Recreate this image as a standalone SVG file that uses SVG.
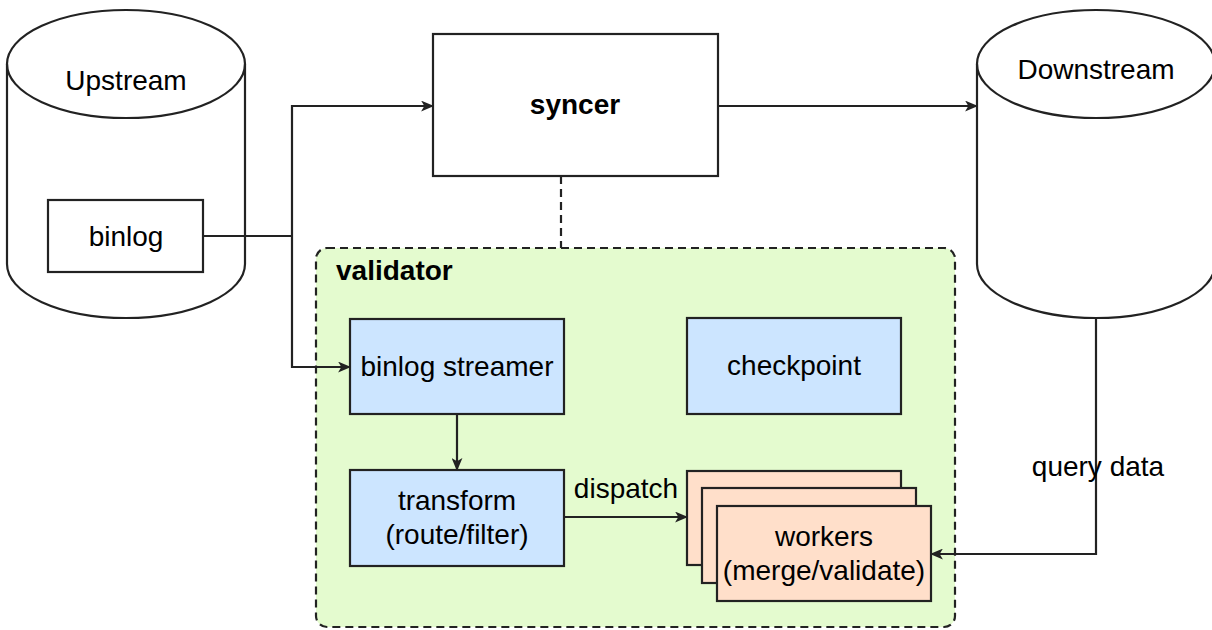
<svg xmlns="http://www.w3.org/2000/svg" width="1212" height="630" viewBox="0 0 1212 630">
<style>
  text { font-family: "Liberation Sans", Arial, Helvetica, sans-serif; font-size: 28px; fill: #000; text-anchor: middle; }
  .bold { font-weight: bold; }
  .shape { stroke: #222; stroke-width: 2.2; }
  .white { fill: #ffffff; }
  .blue { fill: #cce5ff; }
  .peach { fill: #ffdfca; }
  .edge { fill: none; stroke: #222; stroke-width: 2.2; }
  .dash { fill: none; stroke: #222; stroke-width: 2.2; stroke-dasharray: 8 5; }
  .group { fill: #e4fbcf; stroke: #222; stroke-width: 2.2; stroke-dasharray: 8 5; }
</style>
<defs>
  <marker id="arrow" viewBox="0 0 12 10" refX="11" refY="5" markerWidth="13" markerHeight="11" markerUnits="userSpaceOnUse" orient="auto">
    <path d="M0,0 L12,5 L0,10 L3,5 Z" fill="#222"/>
  </marker>
</defs>
<rect width="1212" height="630" fill="#ffffff"/>

<g id="validator">
  <rect x="316" y="248" width="639" height="379" rx="11" ry="11" class="group"/>
  <text x="336" y="280" class="bold" style="text-anchor:start">validator</text>
</g>

<g id="upstream">
  <path class="shape white" d="M7,64 A119,54 0 0 1 245,64 L245,264 A119,54 0 0 1 7,264 Z"/>
  <path class="shape" fill="none" d="M7,64 A119,54 0 0 0 245,64"/>
  <text x="126" y="90">Upstream</text>
</g>

<g id="binlog">
  <rect x="48" y="200" width="155" height="72" class="shape white"/>
  <text x="126" y="246">binlog</text>
</g>

<g id="syncer">
  <rect x="433" y="34" width="285" height="142" class="shape white"/>
  <text x="575" y="114" class="bold">syncer</text>
</g>

<g id="downstream">
  <path class="shape white" d="M977,64 A119,54 0 0 1 1215,64 L1215,264 A119,54 0 0 1 977,264 Z"/>
  <path class="shape" fill="none" d="M977,64 A119,54 0 0 0 1215,64"/>
  <text x="1096" y="79">Downstream</text>
</g>

<g id="binlog-streamer">
  <rect x="350" y="319" width="214" height="95" class="shape blue"/>
  <text x="457" y="376">binlog streamer</text>
</g>

<g id="checkpoint">
  <rect x="687" y="318" width="214" height="96" class="shape blue"/>
  <text x="794" y="375">checkpoint</text>
</g>

<g id="transform">
  <rect x="350" y="470" width="214" height="96" class="shape blue"/>
  <text x="457" y="510">transform</text>
  <text x="457" y="544">(route/filter)</text>
</g>

<g id="workers">
  <rect x="687" y="471" width="214" height="94" class="shape peach"/>
  <rect x="702" y="488" width="214" height="95" class="shape peach"/>
  <rect x="717" y="506" width="214" height="95" class="shape peach"/>
  <text x="824" y="546">workers</text>
  <text x="824" y="580">(merge/validate)</text>
</g>

<g id="connectors">
  <path class="edge" d="M203,236 L292,236"/>
  <path class="edge" d="M292,236 L292,106 L433,106" marker-end="url(#arrow)"/>
  <path class="edge" d="M292,236 L292,367 L350,367" marker-end="url(#arrow)"/>
  <path class="edge" d="M718,106 L977,106" marker-end="url(#arrow)"/>
  <path class="dash" d="M561,176 L561,248"/>
  <path class="edge" d="M457,414 L457,470" marker-end="url(#arrow)"/>
  <path class="edge" d="M564,517 L687,517" marker-end="url(#arrow)"/>
  <text x="626" y="498">dispatch</text>
  <path class="edge" d="M1096,318 L1096,554 L931,554" marker-end="url(#arrow)"/>
  <text x="1098" y="476">query data</text>
</g>
</svg>
